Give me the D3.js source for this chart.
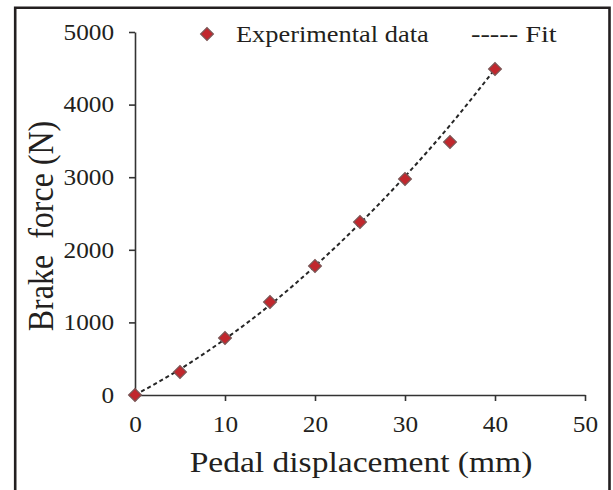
<!DOCTYPE html>
<html>
<head>
<meta charset="utf-8">
<script src="https://cdn.jsdelivr.net/npm/d3@7"></script>
<style>
  html, body { margin: 0; padding: 0; background: #fff; }
  svg { display: block; }
  text { font-family: "Liberation Serif", "Times New Roman", serif; fill: #231f20; }
</style>
</head>
<body>
<svg id="chart" width="613" height="490"></svg>
<script>
// ---- data ----
const displacement = [0, 5, 10, 15, 20, 25, 30, 35, 40];          // mm
const experimental = [0, 317, 785, 1281, 1777, 2383, 2975, 3485, 4490]; // N
const fitX = [0, 5, 10, 15, 20, 25, 30, 35, 40];
const fitY = [0, 355, 770, 1240, 1775, 2365, 3010, 3715, 4490];
const xTicks = [0, 10, 20, 30, 40, 50];
const yTicks = [0, 1000, 2000, 3000, 4000, 5000];
const xLabel = "Pedal displacement (mm)";
const yLabel = "Brake\u00a0 force (N)";
const legendLabels = ["Experimental data", "----- Fit"];

// ---- layout ----
const svg = d3.select("#chart");
const x = d3.scaleLinear().domain([0, 50]).range([135, 585]);
const y = d3.scaleLinear().domain([0, 5000]).range([395, 32]);
const SX = 1.1;

// frame (open at bottom)
svg.append("path")
  .attr("d", "M15.2,500 L15.2,7.8 L609.5,7.8 L609.5,500")
  .attr("fill", "none").attr("stroke", "#231f20").attr("stroke-width", 2.6);

// axes
const yAxis = svg.append("g").attr("transform", `translate(${x(0)},0)`)
  .call(d3.axisLeft(y).tickValues(yTicks).tickSize(6).tickSizeOuter(0).tickPadding(13).tickFormat(d3.format("d")));
const xAxis = svg.append("g").attr("transform", `translate(0,${y(0)})`)
  .call(d3.axisBottom(x).tickValues(xTicks).tickSize(6).tickSizeOuter(0).tickPadding(14.5).tickFormat(d3.format("d")));

[yAxis, xAxis].forEach(g => {
  g.select(".domain").attr("stroke", "#333").attr("stroke-width", 1.6);
  g.selectAll(".tick line").attr("stroke", "#333").attr("stroke-width", 1.6);
  g.selectAll(".tick text")
    .attr("font-size", 23)
    .attr("font-family", "Liberation Serif, Times New Roman, serif")
    .attr("fill", "#231f20")
    .attr("transform", `scale(${SX},1)`);
});

// fit line
const line = d3.line().x((d, i) => x(fitX[i])).y(d => y(d)).curve(d3.curveMonotoneX);
svg.append("path")
  .datum(fitY)
  .attr("d", line)
  .attr("fill", "none")
  .attr("stroke", "#262626")
  .attr("stroke-width", 2)
  .attr("stroke-dasharray", "4,3");

// markers
const diamond = d3.symbol().type(d3.symbolSquare).size(82);
svg.append("g").selectAll("path")
  .data(experimental)
  .join("path")
  .attr("d", diamond)
  .attr("transform", (d, i) => `translate(${x(displacement[i])},${y(d)}) rotate(45)`)
  .attr("fill", "#c1272d")
  .attr("stroke", "#7a5656")
  .attr("stroke-width", 1.2);

// axis labels
svg.append("text")
  .attr("transform", `translate(${(x(0) + x(50)) / 2 + 1},472) scale(${SX},1)`)
  .attr("text-anchor", "middle")
  .attr("font-size", 30.5)
  .text(xLabel);

svg.append("text")
  .attr("transform", `translate(53,226) rotate(-90) scale(1,${SX})`)
  .attr("text-anchor", "middle")
  .attr("font-size", 32)
  .text(yLabel);

// legend
svg.append("path")
  .attr("d", diamond)
  .attr("transform", "translate(207,34) rotate(45)")
  .attr("fill", "#c1272d")
  .attr("stroke", "#7a5656")
  .attr("stroke-width", 1.2);
svg.append("text")
  .attr("transform", `translate(236,42) scale(${SX},1)`)
  .attr("font-size", 24)
  .text(legendLabels[0]);
svg.append("text")
  .attr("transform", `translate(471,42) scale(1.18,1)`)
  .attr("font-size", 24)
  .text(legendLabels[1]);
</script>
</body>
</html>
